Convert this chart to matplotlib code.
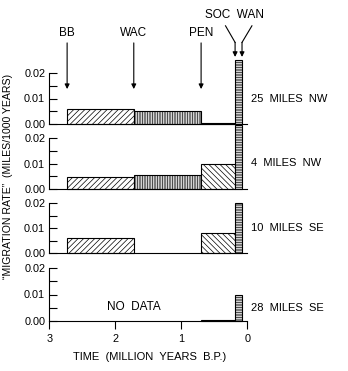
import numpy as np
import matplotlib.pyplot as plt

plt.rcParams['font.family'] = ['Liberation Sans', 'DejaVu Sans']
plt.rcParams['hatch.linewidth'] = 0.5

# time edges of each period (million years B.P.), oldest first
edges = [2.73, 1.72, 0.70, 0.19, 0.076]
periods = ['BB', 'WAC', 'PEN', 'SOC']
hatches = ['//////', '||||||||||', '\\\\\\\\\\\\', '----------']

# migration rates (miles/1000 years), nan = no bar
sites = ['25  MILES  NW', '4  MILES  NW', '10  MILES  SE', '28  MILES  SE']
rate_25nw = [0.0057, 0.0051, 0.0005, 0.025]
rate_4nw = [0.0046, 0.0053, 0.0097, 0.025]
rate_10se = [0.0059, np.nan, 0.0079, 0.020]
rate_28se = [np.nan, np.nan, 0.0005, 0.010]
rates = [rate_25nw, rate_4nw, rate_10se, rate_28se]

W, H = 348, 371
fig = plt.figure(figsize=(W / 100, H / 100), dpi=100)

# panel baselines / tops in pixels from top
panel_px = [(124, 73), (189, 138), (253, 203), (321, 268)]
x0, x1 = 49.3, 247.3

axes = []
for i, (bot, top) in enumerate(panel_px):
    ax = fig.add_axes([x0 / W, 1 - bot / H, (x1 - x0) / W, (bot - top) / H])
    ax.set_xlim(3, 0)
    ax.set_ylim(0, 0.02)
    for j, r in enumerate(rates[i]):
        if np.isnan(r):
            continue
        left = edges[j + 1]
        ax.bar(left, r, width=edges[j] - left, align='edge', color='white',
               edgecolor='black', hatch=hatches[j], lw=0.8, clip_on=False)
    for s in ['top', 'right']:
        ax.spines[s].set_visible(False)
    ax.spines['left'].set_linewidth(0.8)
    ax.spines['bottom'].set_linewidth(0.8)
    ax.set_yticks([0, 0.01, 0.02])
    ax.set_yticks([0.005, 0.015], minor=True)
    ax.set_yticklabels(['0.00', '0.01', '0.02'])
    ax.tick_params(axis='y', which='both', direction='in', length=6, width=0.8,
                   labelsize=7.8, pad=3)
    if i < 3:
        ax.set_xticks([])
    else:
        ax.set_xticks([3, 2, 1, 0])
        ax.set_xticklabels(['3', '2', '1', '0'])
        ax.tick_params(axis='x', direction='out', length=6, width=0.8,
                       labelsize=7.8, pad=3)
    ax.text(-0.06, 0.01 if i != 3 else 0.005, sites[i], fontsize=8,
            va='center', ha='left', clip_on=False)
    axes.append(ax)

axes[3].text(1.72, 0.0052, 'NO  DATA', fontsize=8.5, ha='center', va='center')

# period arrows on the top panel
ax = axes[0]
for name, xv in zip(periods[:3], edges[:3]):
    ax.text(xv, 0.0355, name, fontsize=8.5, ha='center', va='center')
    ax.annotate('', xy=(xv, 0.0137), xytext=(xv, 0.0318),
                arrowprops=dict(arrowstyle='-|>', lw=0.8, color='k',
                                mutation_scale=7, shrinkA=0, shrinkB=0),
                annotation_clip=False)

ax.text(0.19, 0.0428, 'SOC  WAN', fontsize=8.5, ha='center', va='center')
for xs, xb in [(0.33, 0.185), (-0.07, 0.08)]:
    ax.plot([xs, xb], [0.0385, 0.032], color='k', lw=0.8, clip_on=False)
    ax.annotate('', xy=(xb, 0.0263), xytext=(xb, 0.032),
                arrowprops=dict(arrowstyle='-|>', lw=0.8, color='k',
                                mutation_scale=7, shrinkA=0, shrinkB=0),
                annotation_clip=False)

fig.text(8 / W, 1 - 176 / H, '\u201cMIGRATION RATE\u201d  (MILES/1000 YEARS)',
         rotation=90, fontsize=7.6, ha='center', va='center')
fig.text(150 / W, 1 - 357 / H, 'TIME  (MILLION  YEARS  B.P.)', fontsize=8,
         ha='center', va='center')

fig.savefig('out.png', dpi=100)
